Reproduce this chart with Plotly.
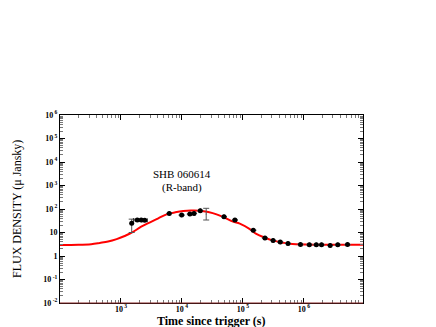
import plotly.graph_objects as go

# observed R-band points (time in s, flux in micro-Jansky)
t_obs = [1500, 1850, 2150, 2450, 6200, 9900, 13500, 15800, 20000, 49000, 74000,
         148000, 230000, 313000, 410000, 550000, 880000, 1230000, 1600000,
         1950000, 2700000, 3600000, 5200000]
f_obs = [25, 34, 34, 33, 65, 55, 61, 65, 85, 47, 34,
         12.5, 5.8, 4.6, 3.9, 3.4, 3.1, 3.0, 3.0,
         3.0, 2.8, 3.0, 3.05]
f_err_up = [12, 3, 3, 3, 0, 0, 0, 0, 0, 0, 0,
            0, 0, 0, 0, 0, 0, 0, 0,
            0, 0, 0, 0]
f_err_dn = [15, 3, 3, 3, 0, 0, 0, 0, 0, 0, 0,
            0, 0, 0, 0, 0, 0, 0, 0,
            0, 0, 0, 0]
t_err = [0, 250, 250, 250, 0, 0, 0, 0, 0, 0, 0,
         0, 0, 0, 0, 0, 0, 0, 0,
         0, 0, 0, 0]

# point with error bar only
t_bar = [25000]
f_bar = [62]
f_bar_up = [45]
f_bar_dn = [28]

# fitted model curve
t_model = [100, 200, 325, 450, 615, 850, 1150, 1500, 2150, 3000, 4100, 5600, 7800,
           10500, 14000, 20000, 27000, 37000, 50000, 69000, 89000, 130000, 166000,
           230000, 316000, 450000, 590000, 1100000, 2000000, 3900000, 9500000]
f_model = [2.95, 3.0, 3.2, 3.6, 4.1, 5.2, 7.1, 9.8, 17.7, 27, 40, 59, 72,
           82, 87, 85, 74, 59, 43, 29, 24, 14, 8.7,
           6.0, 4.5, 3.7, 3.3, 3.05, 3.0, 3.0, 3.0]

x_ticks = [1e3, 1e4, 1e5, 1e6]
x_labels = ["10<sup> 3</sup>", "10<sup> 4</sup>", "10<sup> 5</sup>", "10<sup> 6</sup>"]
y_ticks = [1e-2, 1e-1, 1, 10, 1e2, 1e3, 1e4, 1e5, 1e6]
y_labels = ["10<sup> -2</sup>", "10<sup> -1</sup>", "1", "10", "10<sup> 2</sup>",
            "10<sup> 3</sup>", "10<sup> 4</sup>", "10<sup> 5</sup>", "10<sup> 6</sup>"]

serif = "Liberation Serif"

fig = go.Figure()

fig.add_trace(go.Scatter(x=t_model, y=f_model, mode="lines", line_shape="spline",
                         line=dict(color="#ff0000", width=2), hoverinfo="skip"))

fig.add_trace(go.Scatter(x=t_bar, y=f_bar, mode="markers",
                         marker=dict(size=1, color="#444"),
                         error_y=dict(type="data", symmetric=False, array=f_bar_up,
                                      arrayminus=f_bar_dn, color="#555", thickness=1, width=3)))

fig.add_trace(go.Scatter(x=t_obs, y=f_obs, mode="markers",
                         marker=dict(size=5, color="black"),
                         error_y=dict(type="data", symmetric=False, array=f_err_up,
                                      arrayminus=f_err_dn, color="#555", thickness=1, width=3),
                         error_x=dict(type="data", array=t_err, color="#333",
                                      thickness=1, width=2)))

minor_x = [k * 10 ** e for e in range(2, 7) for k in range(2, 10)]
minor_y = [k * 10.0 ** e for e in range(-2, 6) for k in range(2, 10)]

fig.update_xaxes(type="log", range=[2, 6.97], tickmode="array", tickvals=x_ticks,
                 ticktext=x_labels, ticks="inside", ticklen=5, tickcolor="black",
                 showline=True, linecolor="black", linewidth=1, mirror="ticks",
                 showgrid=False, zeroline=False, ticklabelstandoff=-2,
                 tickfont=dict(family=serif, size=8, color="black", weight="bold"),
                 minor=dict(tickmode="array", tickvals=minor_x, ticks="inside",
                            ticklen=3, tickcolor="#777", showgrid=False))
fig.update_yaxes(type="log", range=[-2, 6], tickmode="array", tickvals=y_ticks,
                 ticktext=y_labels, ticks="inside", ticklen=5, tickcolor="black",
                 showline=True, linecolor="black", linewidth=1, mirror="ticks",
                 showgrid=False, zeroline=False,
                 tickfont=dict(family=serif, size=8, color="black", weight="bold"),
                 minor=dict(tickmode="array", tickvals=minor_y, ticks="inside",
                            ticklen=3, tickcolor="#777", showgrid=False))

fig.add_shape(type="line", xref="paper", yref="paper", x0=0, x1=1, y0=0, y1=0,
              line=dict(color="#8b2a2a", width=1), layer="above")

fig.add_annotation(text="SHB 060614", x=0.404, y=0.686, xref="paper", yref="paper",
                   xanchor="center", yanchor="middle", showarrow=False,
                   font=dict(family=serif, size=11, color="black"))
fig.add_annotation(text="(R-band)", x=0.404, y=0.612, xref="paper", yref="paper",
                   xanchor="center", yanchor="middle", showarrow=False,
                   font=dict(family=serif, size=11, color="black"))
fig.add_annotation(text="FLUX DENSITY (\u03bc Jansky)", x=-0.142, y=0.5,
                   xref="paper", yref="paper", textangle=-90, showarrow=False,
                   xanchor="center", yanchor="middle",
                   font=dict(family=serif, size=12, color="black"))
fig.add_annotation(text="<b>Time since trigger (s)</b>", x=0.5, y=-0.094,
                   xref="paper", yref="paper", showarrow=False,
                   xanchor="center", yanchor="middle",
                   font=dict(family=serif, size=12, color="black"))

# the page sits 8px in from the window edge, so margins are shifted to compensate
fig.update_layout(width=436, height=327, showlegend=False,
                  margin=dict(l=52, r=81, t=107, b=32),
                  font=dict(family=serif, color="black"),
                  plot_bgcolor="white", paper_bgcolor="white")

fig.write_html("out.html")
